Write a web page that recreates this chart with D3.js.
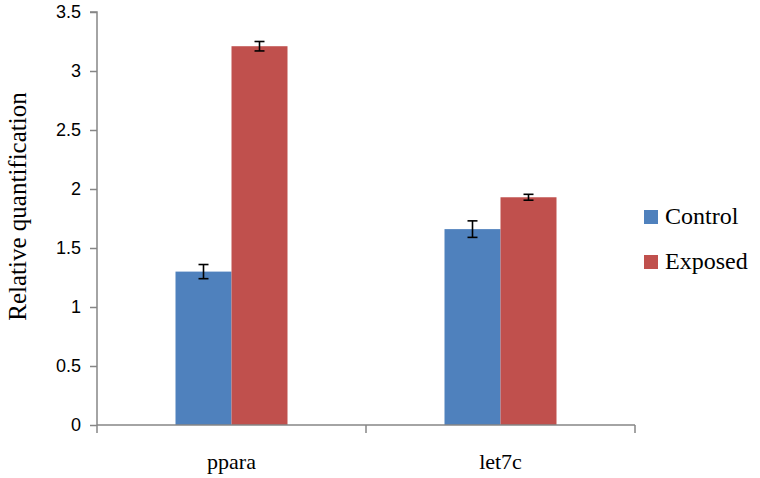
<!DOCTYPE html>
<html>
<head>
<meta charset="utf-8">
<script src="https://cdn.jsdelivr.net/npm/d3@7"></script>
<style>
  body { margin: 0; background: #fff; }
  svg { display: block; }
  svg text.serif { font-family: serif !important; }
</style>
</head>
<body>
<div id="chart"></div>
<script>
// datos
const genes = ['ppara', 'let7c'];
const groups = ['Control', 'Exposed'];
const controlValues = [1.30, 1.66];
const exposedValues = [3.21, 1.93];
const controlErrors = [0.06, 0.07];
const exposedErrors = [0.04, 0.025];
const yTicks = [0, 0.5, 1, 1.5, 2, 2.5, 3, 3.5];

const W = 760, H = 478;
const margin = { top: 12, right: 125, bottom: 53, left: 97 };
const width = W - margin.left - margin.right;
const height = H - margin.top - margin.bottom;

const svg = d3.select('#chart').append('svg')
    .attr('width', W).attr('height', H)
  .append('g')
    .attr('transform', `translate(${margin.left},${margin.top})`);

const color = d3.scaleOrdinal().domain(groups).range(['#4F81BD', '#C0504D']);

const x0 = d3.scaleBand().domain(genes).range([0, 538]);
const x1 = d3.scaleBand().domain(groups).range([x0.bandwidth() / 2 - 56, x0.bandwidth() / 2 + 56]);
const y = d3.scaleLinear().domain([0, 3.5]).range([height, 0]);

const rows = genes.map((g, i) => ({
  gene: g,
  vals: [
    { group: 'Control', v: controlValues[i], e: controlErrors[i] },
    { group: 'Exposed', v: exposedValues[i], e: exposedErrors[i] }
  ]
}));

// barras
const gGene = svg.append('g').selectAll('g')
  .data(rows)
  .join('g')
    .attr('transform', d => `translate(${x0(d.gene)},0)`);

gGene.selectAll('rect')
  .data(d => d.vals)
  .join('rect')
    .attr('x', d => x1(d.group))
    .attr('y', d => y(d.v))
    .attr('width', x1.bandwidth())
    .attr('height', d => height - y(d.v))
    .attr('fill', d => color(d.group));

// barras de error
const err = gGene.selectAll('g.err')
  .data(d => d.vals)
  .join('g')
    .attr('class', 'err')
    .attr('stroke', '#000')
    .attr('stroke-width', 1.6);
err.append('line')
  .attr('x1', d => x1(d.group) + x1.bandwidth() / 2)
  .attr('x2', d => x1(d.group) + x1.bandwidth() / 2)
  .attr('y1', d => y(d.v + d.e))
  .attr('y2', d => y(d.v - d.e));
err.selectAll('line.cap')
  .data(d => [d.v + d.e, d.v - d.e].map(v => ({ v, d })))
  .join('line')
    .attr('class', 'cap')
    .attr('x1', c => x1(c.d.group) + x1.bandwidth() / 2 - 5)
    .attr('x2', c => x1(c.d.group) + x1.bandwidth() / 2 + 5)
    .attr('y1', c => y(c.v))
    .attr('y2', c => y(c.v));

// eje y
const yAxis = svg.append('g')
  .call(d3.axisLeft(y).tickValues(yTicks).tickSize(7).tickPadding(9).tickFormat(d3.format('')));
yAxis.select('.domain').attr('stroke', '#868686').attr('stroke-width', 1.5)
  .attr('d', `M-7,0H0V${height}`);
yAxis.selectAll('.tick line').attr('stroke', '#868686').attr('stroke-width', 1.5);
yAxis.selectAll('.tick text')
  .attr('fill', '#000')
  .attr('style', 'font-family: "Liberation Sans", sans-serif; font-size: 18px;');

// eje x
const xAxis = svg.append('g')
  .attr('transform', `translate(0,${height})`)
  .call(d3.axisBottom(x0).tickSize(0).tickPadding(28));
xAxis.select('.domain').attr('stroke', '#868686').attr('stroke-width', 1.5)
  .attr('d', `M0,0H538`);
xAxis.selectAll('.tick text')
  .attr('class', 'serif')
  .attr('fill', '#000')
  .attr('style', 'font-family: "Liberation Serif", serif; font-size: 22px;');
xAxis.selectAll('.sep')
  .data([0, 269, 538])
  .join('line')
    .attr('class', 'sep')
    .attr('x1', d => d).attr('x2', d => d)
    .attr('y1', 0).attr('y2', 8)
    .attr('stroke', '#868686').attr('stroke-width', 1.5);

// título eje y
svg.append('text')
  .attr('class', 'serif')
  .attr('transform', `translate(${-margin.left + 26},${height / 2 - 12}) rotate(-90)`)
  .attr('text-anchor', 'middle')
  .attr('style', 'font-family: "Liberation Serif", serif; font-size: 25px;')
  .text('Relative quantification');

// leyenda
const legend = svg.append('g')
  .attr('transform', `translate(${547},${198})`);
groups.forEach((gName, i) => {
  const y0 = i * 45;
  legend.append('rect')
    .attr('x', 0).attr('y', y0)
    .attr('width', 14).attr('height', 14)
    .attr('fill', color(gName));
  legend.append('text')
    .attr('class', 'serif')
    .attr('x', 21).attr('y', y0 + 14)
    .attr('style', 'font-family: "Liberation Serif", serif; font-size: 24px;')
    .text(gName);
});
</script>
</body>
</html>
